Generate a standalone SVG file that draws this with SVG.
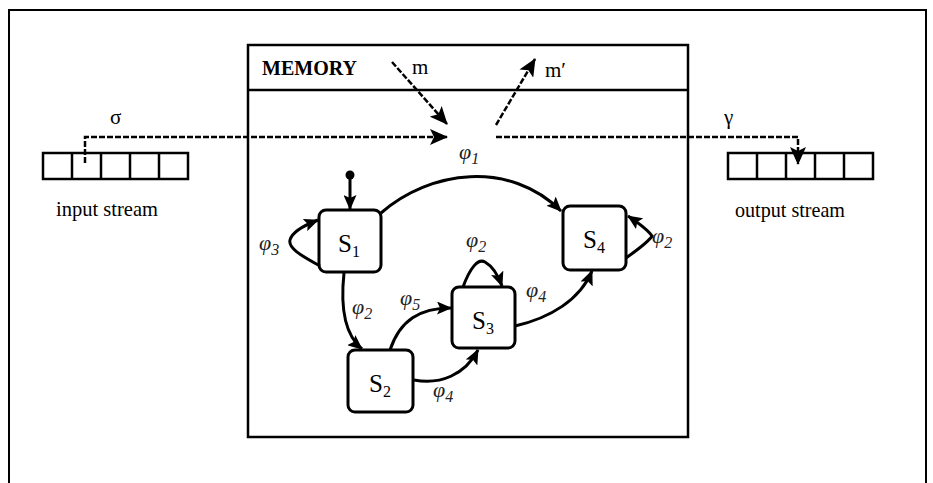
<svg xmlns="http://www.w3.org/2000/svg" width="933" height="483" viewBox="0 0 933 483">
<defs>
<marker id="ah" markerWidth="15" markerHeight="13" refX="14" refY="6.5" orient="auto" markerUnits="userSpaceOnUse">
<path d="M0,0 L15,6.5 L0,13 L3,6.5 z" fill="#000"/>
</marker>
<marker id="ahb" markerWidth="18" markerHeight="16" refX="17" refY="8" orient="auto" markerUnits="userSpaceOnUse">
<path d="M0,0 L18,8 L0,16 L4,8 z" fill="#000"/>
</marker>
<style>
.box{fill:#fff;stroke:#000;stroke-width:3}
.edge{fill:none;stroke:#000;stroke-width:3}
.dash{fill:none;stroke:#000;stroke-width:2.5;stroke-dasharray:6 2}
.cell{fill:#fff;stroke:#000;stroke-width:2.5}
.st{font-family:"Liberation Serif",serif;font-size:25px;fill:#000}
.sub{font-size:16px}
.phi{font-family:"Liberation Serif",serif;font-style:italic;font-size:22px;fill:#222}
.lbl{font-family:"Liberation Serif",serif;font-size:21px;fill:#000}
</style>
</defs>
<rect x="9" y="10" width="917" height="480" fill="#fff" stroke="#000" stroke-width="2"/>

<g id="memory">
<rect x="248" y="45" width="440" height="392" fill="none" stroke="#000" stroke-width="2.5"/>
<line x1="248" y1="90" x2="688" y2="90" stroke="#000" stroke-width="2.5"/>
<text x="262" y="75" font-family="Liberation Serif, serif" font-weight="bold" font-size="20" textLength="95" lengthAdjust="spacingAndGlyphs">MEMORY</text>
<text x="412" y="74" class="lbl">m</text>
<text x="545" y="77" class="lbl">m′</text>
</g>

<g id="input_stream">
<rect x="43" y="153" width="145" height="26" class="cell"/>
<line x1="72" y1="153" x2="72" y2="179" stroke="#000" stroke-width="2.5"/>
<line x1="101" y1="153" x2="101" y2="179" stroke="#000" stroke-width="2.5"/>
<line x1="130" y1="153" x2="130" y2="179" stroke="#000" stroke-width="2.5"/>
<line x1="159" y1="153" x2="159" y2="179" stroke="#000" stroke-width="2.5"/>
<text x="56" y="216" class="lbl" textLength="102" lengthAdjust="spacingAndGlyphs">input stream</text>
<text x="110" y="124" class="lbl">σ</text>
</g>

<g id="output_stream">
<rect x="728" y="153" width="145" height="26" class="cell"/>
<line x1="757" y1="153" x2="757" y2="179" stroke="#000" stroke-width="2.5"/>
<line x1="786" y1="153" x2="786" y2="179" stroke="#000" stroke-width="2.5"/>
<line x1="815" y1="153" x2="815" y2="179" stroke="#000" stroke-width="2.5"/>
<line x1="844" y1="153" x2="844" y2="179" stroke="#000" stroke-width="2.5"/>
<text x="735" y="217" class="lbl" textLength="110" lengthAdjust="spacingAndGlyphs">output stream</text>
<text x="724" y="124" class="lbl">γ</text>
</g>

<g id="S1">
<rect x="319" y="210" width="62" height="62" rx="7" class="box"/>
<text x="338" y="252" class="st">S<tspan class="sub" dy="5">1</tspan></text>
</g>
<g id="S2">
<rect x="348" y="350" width="65" height="62" rx="7" class="box"/>
<text x="369" y="392" class="st">S<tspan class="sub" dy="5">2</tspan></text>
</g>
<g id="S3">
<rect x="452" y="287" width="63" height="61" rx="7" class="box"/>
<text x="472" y="329" class="st">S<tspan class="sub" dy="5">3</tspan></text>
</g>
<g id="S4">
<rect x="563" y="206" width="63" height="64" rx="7" class="box"/>
<text x="583" y="248" class="st">S<tspan class="sub" dy="5">4</tspan></text>
</g>

<g id="connectors">
<path d="M85,163 L85,137 L447,137" class="dash" marker-end="url(#ahb)"/>
<path d="M496,137 L798,137 L798,164" class="dash" marker-end="url(#ahb)"/>
<path d="M392,62 L447,124" class="dash" marker-end="url(#ahb)"/>
<path d="M496,125 L535,59" class="dash" marker-end="url(#ahb)"/>
<circle cx="350" cy="175" r="4.5" fill="#000"/>
<path d="M350,178 L350,209" class="edge" marker-end="url(#ah)"/>
<path d="M381,213 C430,170 510,160 561,211" class="edge" marker-end="url(#ah)"/>
<path d="M344,273 C340,310 345,335 362,349" class="edge" marker-end="url(#ah)"/>
<path d="M390,350 C400,320 420,308 451,308" class="edge" marker-end="url(#ah)"/>
<path d="M414,380 C440,385 465,375 478,350" class="edge" marker-end="url(#ah)"/>
<path d="M463,287 C470,268 478,258 485,262 C492,266 498,275 502,286" class="edge" marker-end="url(#ah)"/>
<path d="M515,326 C550,318 580,300 592,271" class="edge" marker-end="url(#ah)"/>
<path d="M320,266 C300,255 288,248 290,240 C292,232 305,225 318,220" class="edge" marker-end="url(#ah)"/>
<path d="M626,258 C640,248 650,240 652,236 C648,230 640,224 628,216" class="edge" marker-end="url(#ah)"/>
</g>

<g id="labels">
<text x="459" y="159" class="phi">φ<tspan class="sub" dy="5">1</tspan></text>
<text x="259" y="250" class="phi">φ<tspan class="sub" dy="5">3</tspan></text>
<text x="352" y="314" class="phi">φ<tspan class="sub" dy="5">2</tspan></text>
<text x="400" y="305" class="phi">φ<tspan class="sub" dy="5">5</tspan></text>
<text x="433" y="397" class="phi">φ<tspan class="sub" dy="5">4</tspan></text>
<text x="466" y="247" class="phi">φ<tspan class="sub" dy="5">2</tspan></text>
<text x="526" y="297" class="phi">φ<tspan class="sub" dy="5">4</tspan></text>
<text x="652" y="243" class="phi">φ<tspan class="sub" dy="5">2</tspan></text>
</g>
</svg>
